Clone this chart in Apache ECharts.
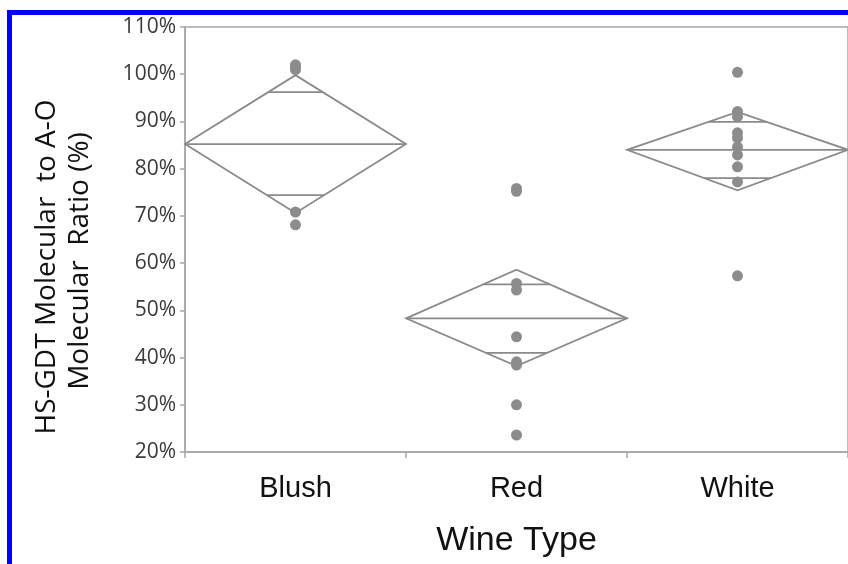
<!DOCTYPE html>
<html>
<head>
<meta charset="utf-8">
<script src="https://cdn.jsdelivr.net/npm/echarts@6/dist/echarts.min.js"></script>
<style>
  html, body { margin: 0; padding: 0; background: #fff; }
  #chart { width: 848px; height: 564px; }
</style>
</head>
<body>
<div id="chart"></div>
<script>
// Wine categories and the ratio tick range
const categories = ['Blush', 'Red', 'White'];
const yTicks = { min: 20, max: 110, step: 10 };

// Individual sample ratios (%) per wine type
const blushValues = [102.0, 101.5, 101.0, 70.8, 68.1];
const redValues = [75.8, 75.2, 55.7, 54.3, 44.4, 39.1, 38.4, 30.0, 23.6];
const whiteValues = [100.4, 92.1, 91.0, 87.6, 86.5, 84.6, 82.9, 80.4, 77.2, 57.3];

// Means diamond statistics per wine type (%)
const groupMeans = [85.2, 48.3, 84.0];
const ciUpper = [99.8, 58.6, 92.0];
const ciLower = [70.6, 38.2, 75.4];
const overlapUpper = [96.2, 55.5, 89.9];
const overlapLower = [74.4, 41.0, 78.0];

const groupValues = [blushValues, redValues, whiteValues];
const pointData = [];
groupValues.forEach((vals, i) => vals.forEach(v => pointData.push([i, v])));

const diamondData = categories.map((c, i) =>
  [i, groupMeans[i], ciUpper[i], ciLower[i], overlapUpper[i], overlapLower[i]]);

const lineColor = '#8a8a8a';
const axisColor = '#a6a6a6';

// Means diamond: CI polygon, mean line and the two overlap marks
function renderDiamond(params, api) {
  const idx = api.value(0);
  const mean = api.value(1), up = api.value(2), lo = api.value(3);
  const ovU = api.value(4), ovL = api.value(5);
  const bandW = api.size([1, 0])[0];
  const c = api.coord([idx, mean]);
  const half = bandW / 2;
  const left = c[0] - half, right = c[0] + half;
  const top = api.coord([idx, up])[1];
  const bottom = api.coord([idx, lo])[1];
  const style = { stroke: lineColor, lineWidth: 1.8, fill: null };
  const children = [
    { type: 'polygon', shape: { points: [[left, c[1]], [c[0], top], [right, c[1]], [c[0], bottom]] }, style },
    { type: 'line', shape: { x1: left, y1: c[1], x2: right, y2: c[1] }, style }
  ];
  [[ovU, up], [ovL, lo]].forEach(([ov, tip]) => {
    const y = api.coord([idx, ov])[1];
    const frac = 1 - (ov - mean) / (tip - mean);
    const w = half * frac;
    children.push({ type: 'line', shape: { x1: c[0] - w, y1: y, x2: c[0] + w, y2: y }, style });
  });
  return { type: 'group', children };
}

const chart = echarts.init(document.getElementById('chart'));
chart.setOption({
  animation: false,
  backgroundColor: '#fff',
  grid: {
    left: 185, top: 27, width: 663, height: 425,
    show: true, borderColor: axisColor, borderWidth: 1.5, backgroundColor: 'transparent'
  },
  xAxis: {
    type: 'category',
    data: categories,
    boundaryGap: true,
    axisLine: { lineStyle: { color: axisColor, width: 1.5 } },
    axisTick: { show: true, length: 6, lineStyle: { color: axisColor, width: 1.5 } },
    axisLabel: { fontFamily: 'Liberation Sans', fontSize: 29, color: '#111', margin: 22 },
    name: 'Wine Type',
    nameLocation: 'middle',
    nameGap: 72,
    nameTextStyle: { fontFamily: 'Liberation Sans', fontSize: 34, color: '#111' }
  },
  yAxis: {
    type: 'value',
    min: yTicks.min, max: yTicks.max, interval: yTicks.step,
    splitLine: { show: false },
    axisLine: { show: true, lineStyle: { color: axisColor, width: 1.5 } },
    axisTick: { show: true, length: 5, lineStyle: { color: axisColor, width: 1.5 } },
    axisLabel: { formatter: '{value}%', fontFamily: 'Open Sans', fontSize: 21, color: '#3a3a3a', margin: 9 }
  },
  graphic: [
    { type: 'rect', shape: { x: 7, y: 10, width: 841, height: 5 }, style: { fill: '#0000ff' } },
    { type: 'rect', shape: { x: 7, y: 10, width: 5, height: 554 }, style: { fill: '#0000ff' } },
    { type: 'text', x: 47, y: 267, rotation: Math.PI / 2,
      style: { text: 'HS-GDT Molecular  to A-O', font: '28px "Open Sans"', fill: '#111', align: 'center', verticalAlign: 'middle' } },
    { type: 'text', x: 80, y: 261, rotation: Math.PI / 2,
      style: { text: 'Molecular  Ratio (%)', font: '28px "Open Sans"', fill: '#111', align: 'center', verticalAlign: 'middle' } }
  ],
  series: [
    {
      type: 'custom',
      renderItem: renderDiamond,
      data: diamondData,
      z: 2
    },
    {
      type: 'scatter',
      data: pointData,
      symbolSize: 11,
      itemStyle: { color: '#8c8c8c', opacity: 1 },
      z: 3
    }
  ]
});
</script>
</body>
</html>
